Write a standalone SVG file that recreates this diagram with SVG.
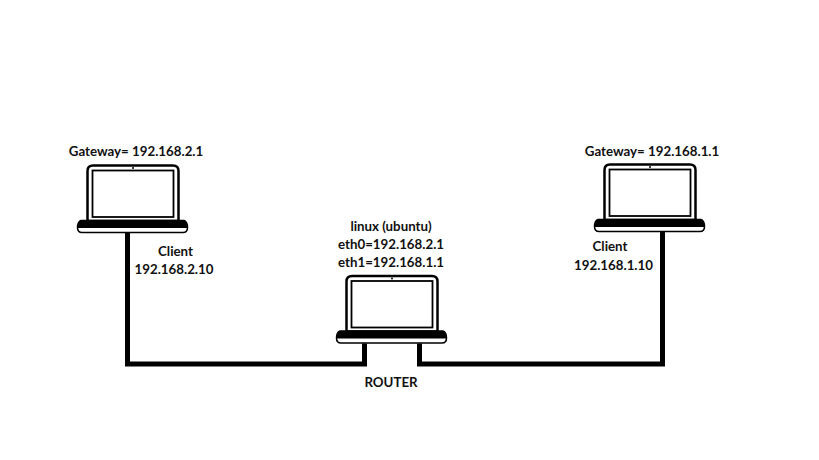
<svg xmlns="http://www.w3.org/2000/svg" width="819" height="460" viewBox="0 0 819 460">
<style>
text{font-family:"Lato","Liberation Sans",sans-serif;font-weight:700;font-size:13.3px;fill:#111;text-anchor:middle}
.wire{fill:none;stroke:#000;stroke-width:5;stroke-linejoin:miter;stroke-linecap:square}
</style>
<defs>
<g id="laptop">
<path d="M87.500 221V171Q87.500 165.500 93 165.500H173Q178.500 165.500 178.500 171V221Z" fill="#fff" stroke="#000" stroke-width="2.500"/>
<rect x="92.500" y="170.500" width="81" height="46.500" fill="#fff" stroke="#000" stroke-width="1.800"/>
<circle cx="133" cy="168" r="1" fill="#000"/>
<path d="M81 220.500H184Q187.500 222 187.500 227.500Q187.500 232.500 183 232.500H82Q77.500 232.500 77.500 227.500Q77.500 222 81 220.500Z" fill="#fff" stroke="#000" stroke-width="1.500"/>
<path d="M81 220.500H184Q187 222 187.500 228H77.500Q78 222 81 220.500Z" fill="#000"/>
</g>
</defs>
<rect width="819" height="460" fill="#fff"/>
<g id="connectors">
<path class="wire" d="M127.500 234V364H364.500V346"/>
<path class="wire" d="M419.500 346V364H662.500V234"/>
</g>
<g id="client-left">
<use href="#laptop"/>
<text x="136" y="156">Gateway= 192.168.2.1</text>
<text x="175.500" y="256">Client</text>
<text x="174" y="274">192.168.2.10</text>
</g>
<g id="router">
<use href="#laptop" x="259" y="110.500"/>
<text x="391" y="231">linux (ubuntu)</text>
<text x="391" y="249">eth0=192.168.2.1</text>
<text x="391" y="267">eth1=192.168.1.1</text>
<text x="391" y="387">ROUTER</text>
</g>
<g id="client-right">
<use href="#laptop" x="517" y="-1"/>
<text x="652" y="156">Gateway= 192.168.1.1</text>
<text x="610" y="251">Client</text>
<text x="613.500" y="270">192.168.1.10</text>
</g>
</svg>
